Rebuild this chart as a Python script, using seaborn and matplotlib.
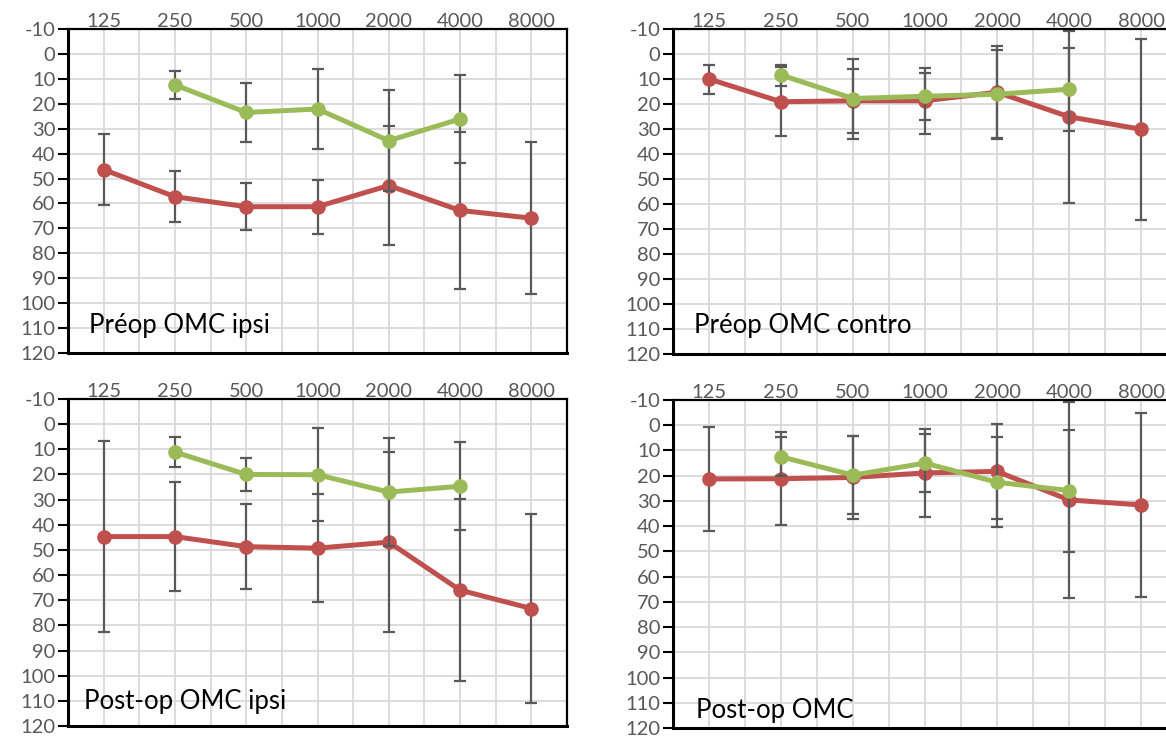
import numpy as np
import pandas as pd
import matplotlib
matplotlib.use("Agg")
from matplotlib import pyplot as plt
import seaborn as sns

nan = np.nan

freqs = ['125', '250', '500', '1000', '2000', '4000', '8000']
titles = ['Préop OMC ipsi', 'Préop OMC contro', 'Post-op OMC ipsi', 'Post-op OMC']

# red series (mean, sd) per panel
red_p1 = [46.4, 57.3, 61.3, 61.3, 52.8, 62.8, 65.9]
red_sd_p1 = [14.4, 10.3, 9.4, 10.9, 24.0, 31.5, 30.5]
red_p2 = [10.0, 19.1, 18.7, 18.7, 15.3, 25.1, 30.1]
red_sd_p2 = [5.8, 13.8, 12.7, 13.3, 18.6, 34.5, 36.3]
red_p3 = [44.7, 44.7, 48.7, 49.3, 46.9, 66.0, 73.3]
red_sd_p3 = [38.0, 21.6, 16.8, 21.4, 35.8, 36.2, 37.5]
red_p4 = [21.3, 21.2, 20.7, 18.9, 18.3, 29.6, 31.6]
red_sd_p4 = [20.6, 18.5, 16.3, 17.5, 18.9, 38.7, 36.5]

# green series (mean, sd) per panel
green_p1 = [nan, 12.4, 23.5, 22.1, 34.8, 26.1, nan]
green_sd_p1 = [nan, 5.7, 11.7, 15.9, 20.4, 17.5, nan]
green_p2 = [nan, 8.4, 17.8, 16.9, 16.1, 14.1, nan]
green_sd_p2 = [nan, 4.2, 16.0, 9.3, 17.6, 16.6, nan]
green_p3 = [nan, 11.1, 20.0, 20.1, 27.0, 24.7, nan]
green_sd_p3 = [nan, 6.1, 6.6, 18.6, 21.6, 17.5, nan]
green_p4 = [nan, 12.5, 19.8, 15.0, 22.6, 25.9, nan]
green_sd_p4 = [nan, 7.8, 15.5, 11.4, 17.8, 24.2, nan]

panels = [
    (red_p1, red_sd_p1, green_p1, green_sd_p1),
    (red_p2, red_sd_p2, green_p2, green_sd_p2),
    (red_p3, red_sd_p3, green_p3, green_sd_p3),
    (red_p4, red_sd_p4, green_p4, green_sd_p4),
]

RED = '#c0504d'
GREEN = '#9bbb59'
ERR = '#595959'
GRID = '#d9d9d9'

sns.set_theme(style='white')
plt.rcParams['font.family'] = ['Lato', 'DejaVu Sans']
plt.rcParams['axes.unicode_minus'] = False

W, H = 1166, 738
fig = plt.figure(figsize=(W / 100, H / 100), dpi=100)

# axes boxes in pixels: left, right, top, bottom
boxes = [(68, 567, 29, 353), (673, 1177, 29, 354),
         (68, 567, 399, 726), (673, 1177, 400, 728)]
# label offsets in axes fraction
label_pos = [(0.042, 0.062), (0.042, 0.065), (0.032, 0.052), (0.046, 0.030)]

x = np.arange(len(freqs))

for i, (l, r, t, b) in enumerate(boxes):
    ax = fig.add_axes([l / W, 1 - b / H, (r - l) / W, (b - t) / H])
    red, red_sd, green, green_sd = panels[i]
    df = pd.DataFrame({
        'pos': np.concatenate([x, x]),
        'dB': red + green,
        'series': ['red'] * len(x) + ['green'] * len(x),
    }).dropna()

    ax.errorbar(x, red, yerr=red_sd, fmt='none', ecolor=ERR, elinewidth=1.6,
                capsize=4, capthick=1.6, zorder=2)
    sns.lineplot(data=df[df.series == 'red'], x='pos', y='dB', color=RED,
                 linewidth=3.6, marker='o', markersize=10.5, markeredgewidth=0,
                 ax=ax, zorder=3)
    ax.errorbar(x, green, yerr=green_sd, fmt='none', ecolor=ERR, elinewidth=1.6,
                capsize=4, capthick=1.6, zorder=4)
    sns.lineplot(data=df[df.series == 'green'], x='pos', y='dB', color=GREEN,
                 linewidth=3.6, marker='o', markersize=10.5, markeredgewidth=0,
                 ax=ax, zorder=5)

    ax.set_xlim(-0.5, len(freqs) - 0.5)
    ax.set_ylim(120, -10)
    ax.set_yticks(np.arange(-10, 121, 10))
    ax.set_xticks(x)
    ax.set_xticklabels(freqs)
    ax.set_xticks(np.arange(-0.5, len(freqs), 0.5), minor=True)
    ax.xaxis.tick_top()
    ax.tick_params(axis='x', which='both', length=0, pad=-1,
                   labelsize=14.5, labelcolor='#595959')
    ax.tick_params(axis='y', length=7, width=1.5, color='black', pad=2,
                   direction='out', left=True, labelsize=14.5,
                   labelcolor='#595959')
    ax.grid(True, which='both', axis='x', color=GRID, linewidth=1.3)
    ax.grid(True, which='major', axis='y', color=GRID, linewidth=1.3)
    ax.set_axisbelow(True)
    ax.set_xlabel('')
    ax.set_ylabel('')
    for side in ['left', 'bottom']:
        ax.spines[side].set_color('black')
        ax.spines[side].set_linewidth(2.2)
    for side in ['top', 'right']:
        ax.spines[side].set_color('black')
        ax.spines[side].set_linewidth(1.6)

    tx, ty = label_pos[i]
    ax.text(tx, ty, titles[i], transform=ax.transAxes, fontsize=18.5,
            color='black', va='baseline', ha='left', zorder=6)

fig.savefig('out.png', dpi=100)
